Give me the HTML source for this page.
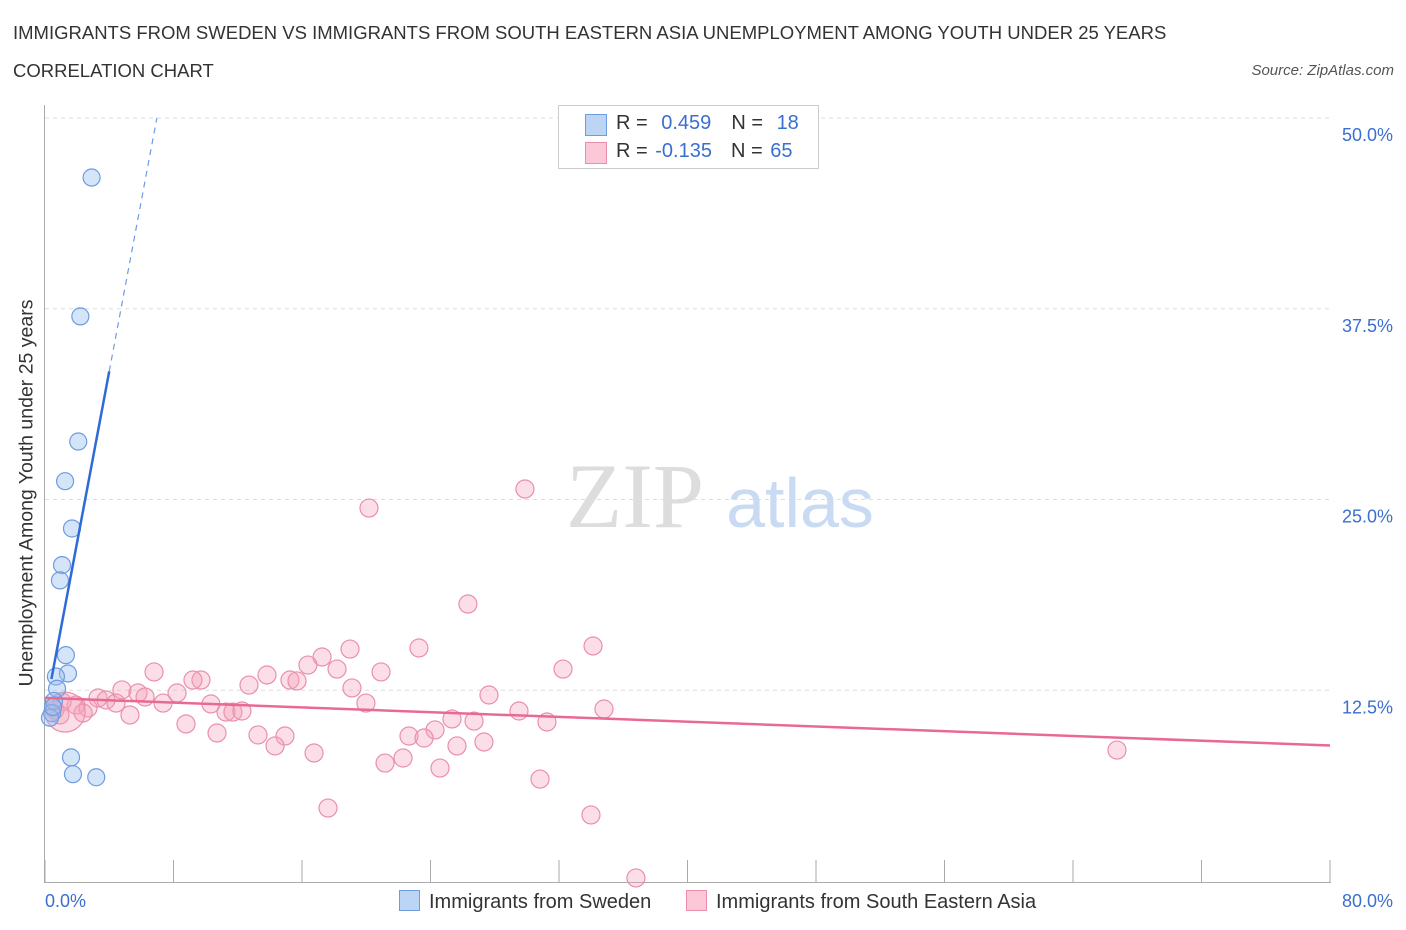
<!DOCTYPE html>
<html><head><meta charset="utf-8">
<style>
body{margin:0;background:#fff;font-family:"Liberation Sans",sans-serif;}
#wrap{position:relative;width:1406px;height:930px;overflow:hidden;}
.t{position:absolute;white-space:nowrap;}
</style></head>
<body>
<div id="wrap">
<div class="t" style="left:13px;top:22px;font-size:18.5px;color:#333;">IMMIGRANTS FROM SWEDEN VS IMMIGRANTS FROM SOUTH EASTERN ASIA UNEMPLOYMENT AMONG YOUTH UNDER 25 YEARS</div>
<div class="t" style="left:13px;top:60px;font-size:18.5px;color:#333;">CORRELATION CHART</div>
<div class="t" style="right:12px;top:62px;font-size:15px;color:#555;font-style:italic;">Source: ZipAtlas.com</div>
<svg id="svg" width="1406" height="930" style="position:absolute;left:0;top:0"></svg>
</div>
<script>
const xTicks=[0,8,16,24,32,40,48,56,64,72,80];
const yTicks=[12.5,25,37.5,50];
const yTickLabels=["12.5%","25.0%","37.5%","50.0%"];
const swedenX=[2.9,2.2,2.07,1.25,1.68,1.06,0.93,1.3,1.43,0.68,0.75,0.56,0.44,0.31,1.62,1.74,3.19,0.5];
const swedenY=[46.1,37.0,28.8,26.2,23.1,20.7,19.7,14.8,13.6,13.4,12.6,11.8,11.0,10.7,8.1,7.0,6.8,11.4];
const seaPx=[[369,508],[525,489],[468,604],[593,646],[419,648],[350,649],[154,672],[563,669],[322,657],[308,665],[337,669],[381,672],[267,675],[290,680],[297,681],[201,680],[193,680],[249,685],[352,688],[122,690],[177,693],[138,693],[98,698],[106,700],[489,695],[145,697],[163,703],[366,703],[211,704],[116,703],[76,705],[62,702],[88,708],[83,713],[226,712],[233,712],[242,711],[604,709],[519,711],[130,715],[452,719],[474,721],[547,722],[435,730],[186,724],[217,733],[258,735],[285,736],[409,736],[424,738],[484,742],[457,746],[275,746],[314,753],[1117,750],[403,758],[385,763],[440,768],[540,779],[328,808],[591,815],[636,878],[55,710],[60,715],[65,712]];
const seaX=seaPx.map(p=>+((p[0]-45)/16.0625).toFixed(2));
const seaY=seaPx.map(p=>+((881-p[1])/15.26).toFixed(2));
const swedenTrend=[11.0,5.6]; // intercept, slope
const seaTrend=[12.0,-0.039];
const X=v=>45+v/80*1285, Y=v=>881-v/50*763;
const svg=document.getElementById('svg');const NS="http://www.w3.org/2000/svg";
function mk(t,a,p){const e=document.createElementNS(NS,t);for(const k in a)e.setAttribute(k,a[k]);(p||svg).appendChild(e);return e;}
yTicks.forEach((v,i)=>{
 const g=mk('line',{x1:45,x2:1330,y1:Y(v),y2:Y(v),stroke:'#ddd','stroke-dasharray':'4,4'});
 
 
 const t=mk('text',{x:1393,y:Y(v)+23,'text-anchor':'end','font-size':18,fill:'#3b6fcf'});t.textContent=yTickLabels[i];
 
 
});
const ax=mk('line',{x1:44.5,x2:44.5,y1:105,y2:882,stroke:'#aaa'});


const bx=mk('line',{x1:44,x2:1331,y1:882.5,y2:882.5,stroke:'#aaa'});


xTicks.forEach(v=>{const l=mk('line',{x1:X(v),x2:X(v),y1:860,y2:882,stroke:'#aaa'});
 
 });
const wm=mk('text',{x:635,y:527,'text-anchor':'middle','font-size':92,fill:'#ddd','font-family':'Liberation Serif'});wm.textContent='ZIP';


const wm2=mk('text',{x:800,y:527,'text-anchor':'middle','font-size':70,fill:'#c9dbf2'});wm2.textContent='atlas';


seaX.forEach((x,i)=>{const r=(i===seaX.length-1)?20:9;const c=mk('circle',{cx:X(x),cy:Y(seaY[i]),r:r,fill:'rgba(244,160,185,0.35)',stroke:'#eb8fab','stroke-width':1.2});
 
 });
swedenX.forEach((x,i)=>{const c=mk('circle',{cx:X(x),cy:Y(swedenY[i]),r:8.5,fill:'rgba(150,190,240,0.4)',stroke:'#6f9be0','stroke-width':1.2});
 
 });
const f1=x=>swedenTrend[0]+swedenTrend[1]*x;
const bs=mk('line',{x1:X(0.4),y1:Y(f1(0.4)),x2:X(4),y2:Y(f1(4)),stroke:'#2f6bd6','stroke-width':2.5});


const xe=(50-swedenTrend[0])/swedenTrend[1];
const bd=mk('line',{x1:X(4),y1:Y(f1(4)),x2:X(xe),y2:Y(50),stroke:'#6f9be0','stroke-width':1.2,'stroke-dasharray':'6,5'});


const f2=x=>seaTrend[0]+seaTrend[1]*x;
const pl=mk('line',{x1:X(0),y1:Y(f2(0)),x2:X(80),y2:Y(f2(80)),stroke:'#e86a93','stroke-width':2.5});


</script>
<div class="t" style="left:27px;top:493px;font-size:19.5px;color:#333;transform:translate(-50%,-50%) rotate(-90deg);">Unemployment Among Youth under 25 years</div>
<div class="t" style="left:45px;top:891px;font-size:18px;color:#3b6fcf;">0.0%</div>
<div class="t" style="right:13px;top:891px;font-size:18px;color:#3b6fcf;">80.0%</div>
<div style="position:absolute;left:558px;top:105px;width:259px;height:62px;border:1px solid #ccc;background:#fff;font-size:20px;color:#333;">
 <div style="position:absolute;left:26px;top:8px;width:20px;height:20px;background:#bcd5f5;border:1px solid #6f9be0;"></div>
 <div class="t" style="left:57px;top:6px;">R = <span style="color:#3b6fcf;margin-left:8px">0.459</span><span style="margin-left:20px">N = </span><span style="color:#3b6fcf;margin-left:8px">18</span></div>
 <div style="position:absolute;left:26px;top:36px;width:20px;height:20px;background:#fac8d6;border:1px solid #eb8fab;"></div>
 <div class="t" style="left:57px;top:34px;">R = <span style="color:#3b6fcf;margin-left:2px">-0.135</span><span style="margin-left:19px">N = </span><span style="color:#3b6fcf;margin-left:2px">65</span></div>
</div>
<div style="position:absolute;left:399px;top:890px;font-size:20px;color:#333;">
 <span style="display:inline-block;width:19px;height:19px;background:#bcd5f5;border:1px solid #6f9be0;vertical-align:-3px;margin-right:9px"></span>Immigrants from Sweden</div>
<div style="position:absolute;left:686px;top:890px;font-size:20px;color:#333;">
 <span style="display:inline-block;width:19px;height:19px;background:#fac8d6;border:1px solid #eb8fab;vertical-align:-3px;margin-right:9px"></span>Immigrants from South Eastern Asia</div>
</body></html>
